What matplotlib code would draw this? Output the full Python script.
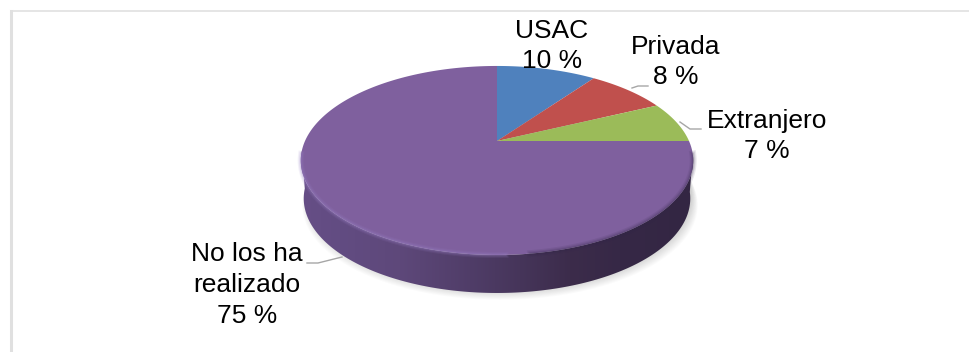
import numpy as np
import matplotlib
matplotlib.use('Agg')
import matplotlib.pyplot as plt
from matplotlib.patches import Polygon

plt.rcParams['font.family'] = ['Liberation Sans', 'DejaVu Sans']

categorias = ['USAC', 'Privada', 'Extranjero', 'No los ha\nrealizado']
valores = [10, 8, 7, 75]
etiquetas = ['10 %', '8 %', '7 %', '75 %']
colores = ['#4f81bd', '#c0504d', '#9bbb59', '#7f609e']

# centro del pastel y perspectiva, en pixeles de la imagen
cx, cy = 497, 141
sx, sy, k = 192, 90.5, 0.206
prof = 38


def disco(t):
    # t en grados, horario desde arriba
    a = np.radians(t)
    x, y = np.sin(a), np.cos(a)
    w = 1 + k * y
    return cx + sx * x / w, cy - sy * y / w


fig = plt.figure(figsize=(9.7, 3.52), dpi=100)
ax = fig.add_axes([0, 0, 1, 1])
ax.set_xlim(0, 970)
ax.set_ylim(352, 0)
ax.axis('off')

# marco
ax.plot([11, 11], [352, 10.5], color='#e0e0e0', lw=2.2)
ax.plot([11, 970], [10.5, 10.5], color='#e0e0e0', lw=1.2)

t = np.linspace(0, 360, 361)
bx, by = disco(t)

# sombra suave debajo
for i in range(12):
    esc = 0.975 + i * 0.003
    ax.add_patch(Polygon(np.c_[cx + (bx - cx) * esc + 3, by + prof - 3 + i * 0.9], closed=True,
                         fc='black', alpha=0.014, ec='none', zorder=1))

# lateral con degradado
lado = np.linspace(98, 264, 200)
lx, ly = disco(lado)
poly = np.r_[np.c_[lx, ly], np.c_[cx + (lx[::-1] - cx) * 0.985, ly[::-1] + prof]]
pos_x = np.array([301, 340, 400, 470, 520, 570, 620, 693])
col_r = np.array([0x66, 0x62, 0x5e, 0x50, 0x46, 0x3c, 0x36, 0x33])
col_g = np.array([0x4e, 0x4c, 0x48, 0x3d, 0x35, 0x2c, 0x28, 0x26])
col_b = np.array([0x86, 0x82, 0x7a, 0x68, 0x5a, 0x4b, 0x46, 0x43])
xx = np.arange(295, 700)
grad = np.stack([np.interp(xx, pos_x, c) for c in (col_r, col_g, col_b)], axis=-1)[None, :, :] / 255
im = ax.imshow(grad, extent=[295, 700, 300, 100], aspect='auto', zorder=2, interpolation='bilinear')
clip = Polygon(poly, closed=True, transform=ax.transData, fc='none', ec='none')
ax.add_patch(clip)
im.set_clip_path(clip)
ax.set_xlim(0, 970)
ax.set_ylim(352, 0)

# sectores
acum = 0
for v, c in zip(valores, colores):
    ang = np.linspace(acum, acum + v * 3.6, max(int(v * 3.6), 2))
    px, py = disco(ang)
    ax.add_patch(Polygon(np.r_[[[cx, cy]], np.c_[px, py]], closed=True, fc=c, ec='none', zorder=3))
    acum += v * 3.6

# bisel del borde, claro abajo a la izquierda y oscuro a la derecha
for ancho, alfa in [(4.5, 0.10), (3.0, 0.14), (1.6, 0.20)]:
    ax.plot(*disco(np.linspace(178, 262, 90)), color='#9c82c6', lw=ancho, alpha=alfa, zorder=4)
for ancho, alfa in [(5.0, 0.10), (3.2, 0.14), (1.6, 0.18)]:
    ax.plot(*disco(np.linspace(98, 172, 80)), color='#33264a', lw=ancho, alpha=alfa, zorder=4)

# lineas guia
guias = [([632, 638, 648], [88, 86, 86]),
         ([680, 690, 701], [122, 129, 129]),
         ([342, 318, 307], [257, 263, 263])]
for gx, gy in guias:
    ax.plot(gx, gy, color='#a6a6a6', lw=1, zorder=5)

# textos
pos = [(552, 46), (676, 62), (767, 136), (247, 285)]
for cat, et, (x, y) in zip(categorias, etiquetas, pos):
    ax.text(x, y, cat + '\n' + et, ha='center', va='center', fontsize=19, color='black',
            linespacing=1.36, zorder=6)

fig.savefig('out.png', dpi=100)
